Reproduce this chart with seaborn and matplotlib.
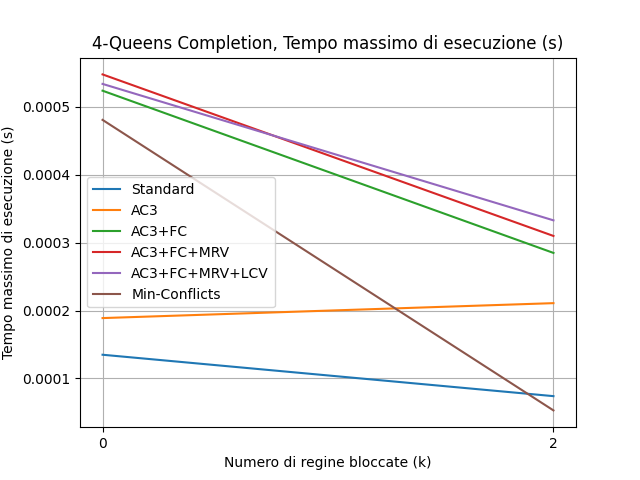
import matplotlib
matplotlib.use("Agg")
import matplotlib.pyplot as plt
import pandas as pd
import seaborn as sns

k_values = [0, 2]
standard = [0.000135, 0.000074]
ac3 = [0.000189, 0.000211]
ac3_fc = [0.000524, 0.000285]
ac3_fc_mrv = [0.000548, 0.000310]
ac3_fc_mrv_lcv = [0.000534, 0.000333]
min_conflicts = [0.000481, 0.000053]

series = {
    "Standard": standard,
    "AC3": ac3,
    "AC3+FC": ac3_fc,
    "AC3+FC+MRV": ac3_fc_mrv,
    "AC3+FC+MRV+LCV": ac3_fc_mrv_lcv,
    "Min-Conflicts": min_conflicts,
}
rows = [(k, name, v) for name, vals in series.items() for k, v in zip(k_values, vals)]
df = pd.DataFrame(rows, columns=["k", "algo", "time"])

fig, ax = plt.subplots(figsize=(6.4, 4.8), dpi=100)
palette = ["#1f77b4", "#ff7f0e", "#2ca02c", "#d62728", "#9467bd", "#8c564b"]
sns.lineplot(data=df, x="k", y="time", hue="algo", palette=palette, ax=ax, linewidth=1.5)
ax.set_xticks(k_values)
ax.grid(True, color="#b0b0b0", linewidth=0.8)
ax.set_axisbelow(True)
ax.set_title("4-Queens Completion, Tempo massimo di esecuzione (s)")
ax.set_xlabel("Numero di regine bloccate (k)")
ax.set_ylabel("Tempo massimo di esecuzione (s)")
ax.legend(loc="center left", title=None)
fig.savefig("out.png", dpi=100)
